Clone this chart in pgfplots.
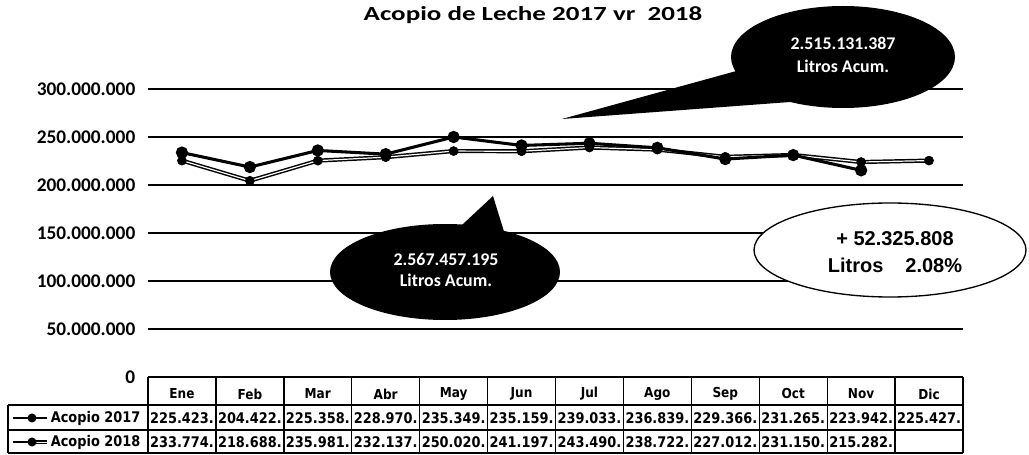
\documentclass[border=0pt]{standalone}
\usepackage{fontspec}
\setmainfont{Carlito}
\newfontfamily\tabfont[FakeStretch=0.88]{DejaVu Sans}
\newfontfamily\arialfont{Liberation Sans}
\newfontfamily\titlefont[FakeStretch=1.35]{Carlito}
\usepackage{pgfplots}
\usepackage{pgfplotstable}
\pgfplotsset{compat=1.18}

\pgfplotstableread{
m y
1 225.423
2 204.422
3 225.358
4 228.970
5 235.349
6 235.159
7 239.033
8 236.839
9 229.366
10 231.265
11 223.942
12 225.427
}\dataA

\pgfplotstableread{
m y
1 233.774
2 218.688
3 235.981
4 232.137
5 250.020
6 241.197
7 243.490
8 238.722
9 227.012
10 231.150
11 215.282
}\dataB

\begin{document}
\begin{tikzpicture}
\path[use as bounding box] (0,0) rectangle (771.75pt,340.5pt);
\begin{axis}[
  at={(111pt,57.75pt)}, anchor=south west, scale only axis,
  width=611.25pt, height=216pt,
  xmin=0.5, xmax=12.5, ymin=0, ymax=300,
  axis line style={draw=none}, tick style={draw=none},
  xtick=\empty,
  ytick={0,50,100,150,200,250,300},
  yticklabels={0,50.000.000,100.000.000,150.000.000,200.000.000,250.000.000,300.000.000},
  yticklabel style={font=\bfseries\fontsize{14.5}{16}\selectfont, xshift=-6pt},
  ymajorgrids, grid style={black, line width=1pt},
  clip=false,
]
\addplot[black, line width=3.1pt] table[x=m,y=y]{\dataA};
\addplot[white, line width=0.9pt] table[x=m,y=y]{\dataA};
\addplot[only marks, black, mark=*, mark size=3.4pt] table[x=m,y=y]{\dataA};
\addplot[black, line width=2.3pt, mark=*, mark size=3.4pt] table[x=m,y=y]{\dataB};
\end{axis}

\begin{scope}[shift={(0,340.5pt)}, x=0.75pt, y=-0.75pt]
  % title
  \node[font=\titlefont\bfseries\fontsize{15}{18}\selectfont] at (533,15) {Acopio de Leche 2017 vr\ \ 2018};
  % table
  \draw[line width=1pt] (148,377) -- (963,377);
  \draw[line width=1pt] (8,405) -- (963,405);
  \draw[line width=1pt] (8,430) -- (963,430);
  \draw[line width=1pt] (8,453) -- (963,453);
  \draw[line width=1pt] (8,405) -- (8,453);
  \foreach \i in {0,...,12} \draw[line width=1pt] (148+67.9167*\i,377) -- (148+67.9167*\i,453);
  \foreach \m [count=\i] in {Ene,Feb,Mar,Abr,May,Jun,Jul,Ago,Sep,Oct,Nov,Dic}
    \node[font=\tabfont\bfseries\fontsize{10.3}{12}\selectfont] at (148+67.9167*\i-33.96,394) {\m};
  \foreach \v [count=\i] in {225.423.,204.422.,225.358.,228.970.,235.349.,235.159.,239.033.,236.839.,229.366.,231.265.,223.942.,225.427.}
    \node[font=\tabfont\bfseries\fontsize{11}{12}\selectfont] at (148+67.9167*\i-33.96,418) {\v};
  \foreach \v [count=\i] in {233.774.,218.688.,235.981.,232.137.,250.020.,241.197.,243.490.,238.722.,227.012.,231.150.,215.282.}
    \node[font=\tabfont\bfseries\fontsize{11}{12}\selectfont] at (148+67.9167*\i-33.96,442) {\v};
  % legend keys
  \draw[line width=2pt] (13,418) -- (47,418);
  \fill (32,418) circle [radius=3.4pt];
  \draw[line width=2pt] (13,442) -- (32,442);
  \draw[line width=2.6pt] (32,442) -- (47,442);
  \draw[white, line width=0.7pt] (34,442) -- (47,442);
  \fill (32,442) circle [radius=3.4pt];
  \node[font=\tabfont\bfseries\fontsize{11}{12}\selectfont, anchor=east] at (145,418) {Acopio 2017};
  \node[font=\tabfont\bfseries\fontsize{11}{12}\selectfont, anchor=east] at (145,442) {Acopio 2018};
  % callout 1
  \fill[black] (843,57) ellipse [x radius=84pt, y radius=38.25pt];
  \fill[black] (740,70) -- (562,119) -- (790,102) -- cycle;
  \node[white, font=\bfseries\fontsize{13.4}{14}\selectfont] at (843,43) {2.515.131.387};
  \node[white, font=\bfseries\fontsize{13.4}{14}\selectfont] at (843,66) {Litros Acum.};
  % callout 2
  \fill[black] (445,272) ellipse [x radius=86.25pt, y radius=36pt];
  \fill[black] (448,238) -- (493,196) -- (506,238) -- cycle;
  \node[white, font=\bfseries\fontsize{13.4}{14}\selectfont] at (446,259) {2.567.457.195};
  \node[white, font=\bfseries\fontsize{13.4}{14}\selectfont] at (446,280) {Litros Acum.};
  % white ellipse
  \draw[fill=white, line width=1pt] (890,250) ellipse [x radius=102pt, y radius=35.25pt];
  \node[font=\arialfont\bfseries\fontsize{15}{16}\selectfont] at (895,239) {+ 52.325.808};
  \node[font=\arialfont\bfseries\fontsize{15}{16}\selectfont] at (895,265) {Litros\hspace{1.1em}2.08\%};
\end{scope}
\end{tikzpicture}
\end{document}
